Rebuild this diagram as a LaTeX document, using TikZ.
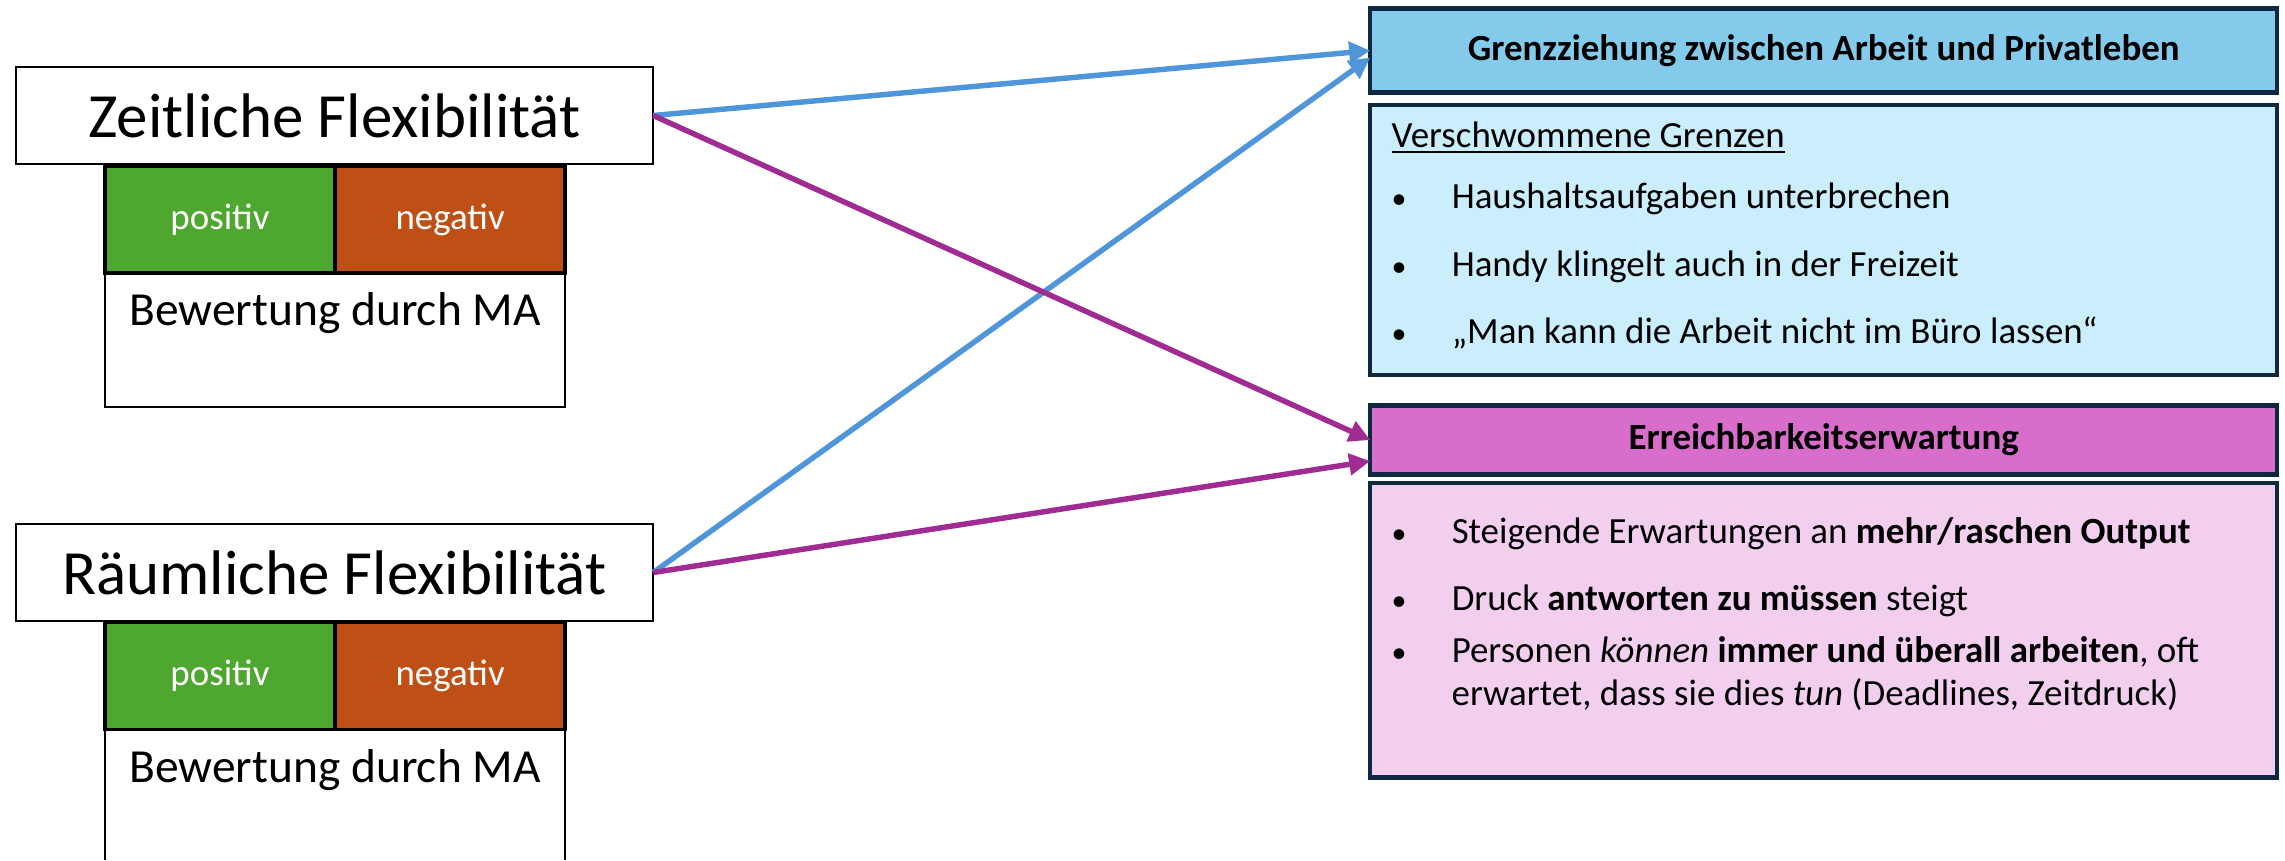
\documentclass[tikz,border=0pt]{standalone}
\usepackage{fontspec}
\setmainfont{Carlito}
\usetikzlibrary{arrows.meta,positioning}

\definecolor{posgreen}{HTML}{4EA72E}
\definecolor{negorange}{HTML}{C04F15}
\definecolor{hdrblue}{HTML}{83CAEB}
\definecolor{bodyblue}{HTML}{CAEEFB}
\definecolor{hdrpink}{HTML}{D86DCB}
\definecolor{bodypink}{HTML}{F2CFEE}
\definecolor{darkframe}{HTML}{0E2841}
\definecolor{arrblue}{HTML}{4E95D9}
\definecolor{arrpurple}{HTML}{A02B93}

\newcommand{\itm}{\makebox[0.6cm][l]{\fontsize{8.5}{10}\selectfont•}}

\begin{document}
\begin{tikzpicture}[
  x=0.01cm, y=-0.01cm,
  flexbox/.style={draw, line width=0.6pt, fill=white, outer sep=0pt, inner sep=0pt,
                  minimum width=6.37cm, minimum height=0.97cm,
                  font=\fontsize{17.9}{21}\selectfont},
  ratebox/.style={draw, line width=1pt, outer sep=0pt, inner sep=0pt, text=white,
                  minimum width=2.3cm, minimum height=1.07cm,
                  font=\fontsize{10.5}{12}\selectfont},
  bewbox/.style={line width=0.6pt, outer sep=0pt, inner sep=0pt, minimum width=4.6cm,
                 font=\fontsize{13.5}{16}\selectfont},
  hdrbox/.style={draw=darkframe, line width=1.25pt, outer sep=0pt, inner sep=0pt,
                 minimum width=9.065cm, font=\fontsize{10.5}{12}\selectfont\bfseries},
  txt/.style={anchor=base west, inner sep=0pt, font=\fontsize{10.5}{12}\selectfont},
  arr/.style={-{Triangle[length=6pt,width=6pt]}, line width=1.55pt}
]
\useasboundingbox (0,0) rectangle (2285,860);

% left side
\node[flexbox] (zeit) at (334.5,115.5) {Zeitliche Flexibilität};
\node[ratebox, fill=posgreen] (pos1) at (220,219.5) {positiv};
\node[ratebox, fill=negorange, right=0pt of pos1] (neg1) {negativ};
\node[bewbox, draw, below=0pt of pos1.south east, text height=0.52cm, text depth=0.82cm] (bew1) {Bewertung durch MA};

\node[flexbox] (raum) at (334.5,572.5) {Räumliche Flexibilität};
\node[ratebox, fill=posgreen] (pos2) at (220,676) {positiv};
\node[ratebox, fill=negorange, right=0pt of pos2] (neg2) {negativ};
\node[bewbox, below=0pt of pos2.south east, text height=0.525cm, text depth=0.78cm] (bew2) {Bewertung durch MA};
\draw[line width=0.6pt] (bew2.south west) -- (bew2.north west) -- (bew2.north east) -- (bew2.south east);

% right side
\node[hdrbox, fill=hdrblue, minimum height=0.84cm] (bhead) at (1823.75,50.6) {Grenzziehung zwischen Arbeit und Privatleben};
\node[hdrbox, fill=bodyblue, minimum height=2.703cm, below=1.21mm of bhead] (bbody) {};
\node[hdrbox, fill=hdrpink, minimum height=0.69cm, below=3.03mm of bbody] (phead) {Erreichbarkeitserwartung};
\node[hdrbox, fill=bodypink, minimum height=2.945cm, below=0.82mm of phead] (pbody) {};

\node[txt] (vg) at (1391,147) {\underline{Verschwommene Grenzen}};
\node[txt] (g1) at (1391,208) {\itm Haushaltsaufgaben unterbrechen};
\node[txt] (g2) at (1391,276) {\itm Handy klingelt auch in der Freizeit};
\node[txt] (g3) at (1391,343) {\itm „Man kann die Arbeit nicht im Büro lassen“};

\node[txt] (e1) at (1391,543) {\itm Steigende Erwartungen an \textbf{mehr/raschen Output}};
\node[txt] (e2) at (1391,610) {\itm Druck \textbf{antworten zu müssen} steigt};
\node[txt] (e3) at (1391,662) {\itm Personen \textit{können} \textbf{immer und überall arbeiten}, oft};
\node[txt] (e3b) at (1451,705) {erwartet, dass sie dies \textit{tun} (Deadlines, Zeitdruck)};

% connectors
\draw[arr, arrblue] (zeit.east) -- (bhead.west);
\draw[arr, arrblue] (raum.east) -- ([yshift=-0.7mm]bhead.west);
\draw[arr, arrpurple] (zeit.east) -- (phead.west);
\draw[arr, arrpurple] (raum.east) -- ([yshift=-2.1mm]phead.west);
\end{tikzpicture}
\end{document}
